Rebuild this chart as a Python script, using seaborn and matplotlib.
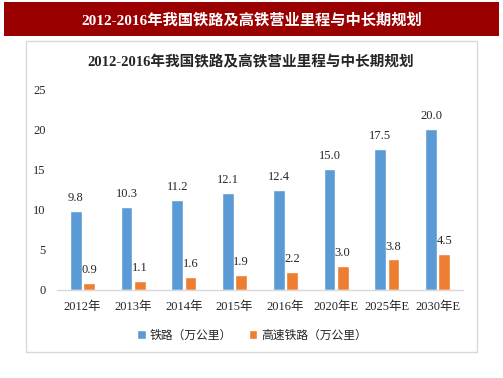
import pandas as pd
import seaborn as sns
import matplotlib.pyplot as plt
from matplotlib.patches import Rectangle, Patch

# dados do gráfico
anos = ["2012年", "2013年", "2014年", "2015年", "2016年", "2020年E", "2025年E", "2030年E"]
ferrovia = [9.8, 10.3, 11.2, 12.1, 12.4, 15.0, 17.5, 20.0]
alta_vel = [0.9, 1.1, 1.6, 1.9, 2.2, 3.0, 3.8, 4.5]
series = ["铁路（万公里）", "高速铁路（万公里）"]
cores = ["#5B9BD5", "#ED7D31"]
titulo = "2012-2016年我国铁路及高铁营业里程与中长期规划"

df = pd.DataFrame({
    "ano": anos * 2,
    "valor": ferrovia + alta_vel,
    "serie": [series[0]] * len(anos) + [series[1]] * len(anos),
})

sns.set_theme(style="white")
plt.rcParams["font.family"] = ["Liberation Serif", "Noto Sans CJK SC"]

fig = plt.figure(figsize=(5.03, 3.78), dpi=100)

# faixa vermelha do cabeçalho
fig.patches.append(Rectangle((4 / 503, 1 - 36 / 378), 495 / 503, 34 / 378,
                             transform=fig.transFigure, facecolor="#9B0000",
                             edgecolor="none", zorder=-2))
fig.text(0.5, 1 - 20 / 378, titulo, color="white", fontsize=11, weight="bold",
         ha="center", va="center")

# moldura do gráfico
fig.patches.append(Rectangle((26 / 503, 1 - 352 / 378), 451 / 503, 311 / 378,
                             transform=fig.transFigure, facecolor="white",
                             edgecolor="#D9D9D9", linewidth=1.0, zorder=-2))
fig.text(251 / 503, 1 - 62 / 378, titulo, color="#262626", fontsize=10.5,
         weight="bold", ha="center", va="center")

ax = fig.add_axes([57 / 503, 1 - 290 / 378, 406 / 503, 201 / 378])
ax.patch.set_alpha(0)

sns.barplot(data=df, x="ano", y="valor", hue="serie", palette=cores,
            saturation=1, width=0.52, gap=0.12, ax=ax, legend=False)

for c in ax.containers:
    ax.bar_label(c, fmt="%.1f", padding=5, fontsize=9, color="#262626")

ax.set_ylim(0, 25)
ax.set_yticks([0, 5, 10, 15, 20, 25])
ax.set_xlabel("")
ax.set_ylabel("")
ax.tick_params(axis="both", length=0, labelsize=9, colors="#262626")
ax.tick_params(axis="x", pad=8)
ax.tick_params(axis="y", pad=8)
for lado in ["top", "right", "left"]:
    ax.spines[lado].set_visible(False)
ax.spines["bottom"].set_color("#D9D9D9")
ax.spines["bottom"].set_linewidth(1.0)

handles = [Patch(facecolor=cores[i], label=series[i]) for i in range(2)]
fig.legend(handles=handles, loc="center", bbox_to_anchor=(252 / 503, 1 - 335 / 378),
           ncol=2, frameon=False, handlelength=0.7, handleheight=0.7,
           handletextpad=0.3, columnspacing=1.5,
           prop={"family": ["Noto Sans CJK SC"], "size": 8.5})

plt.savefig("out.png", dpi=100)
